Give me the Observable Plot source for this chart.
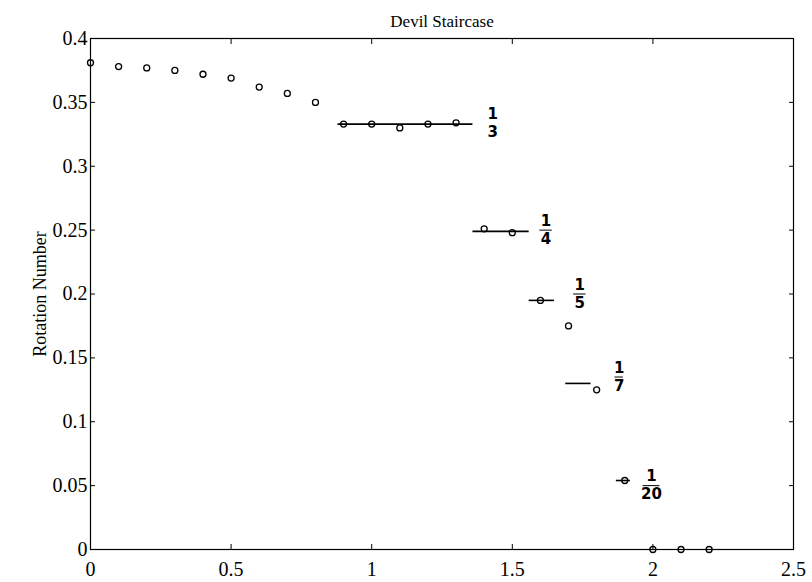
<!DOCTYPE html>
<html>
<head>
<meta charset="utf-8">
<script src="https://cdn.jsdelivr.net/npm/d3@7"></script>
<script src="https://cdn.jsdelivr.net/npm/@observablehq/plot@0.6"></script>
<style>
  html, body { margin: 0; padding: 0; background: white; }
</style>
</head>
<body>
<div id="chart"></div>
<script>
// Sampled parameter values and measured rotation numbers
const param = [0, 0.1, 0.2, 0.3, 0.4, 0.5, 0.6, 0.7, 0.8, 0.9, 1.0, 1.1, 1.2, 1.3, 1.4, 1.5, 1.6, 1.7, 1.8, 1.9, 2.0, 2.1, 2.2];
const rotation = [0.381, 0.378, 0.377, 0.375, 0.372, 0.369, 0.362, 0.357, 0.350, 0.333, 0.333, 0.330, 0.333, 0.334, 0.251, 0.248, 0.195, 0.175, 0.125, 0.054, 0, 0, 0];

// Hand-drawn plateaus (steps of the staircase)
const plateauStart = [0.88, 1.36, 1.56, 1.69, 1.87];
const plateauEnd = [1.36, 1.56, 1.65, 1.78, 1.92];
const plateauLevel = [0.333, 0.249, 0.195, 0.130, 0.054];

// Fraction annotations
const fracNum = ["1", "1", "1", "1", "1"];
const fracDen = ["3", "4", "5", "7", "20"];
const fracX = [1.43, 1.62, 1.74, 1.88, 1.995];
const fracY = [0.334, 0.250, 0.200, 0.135, 0.050];
const fracBarHalf = [0, 0.022, 0.022, 0.015, 0.03];

// Tick values
const xTicks = [0, 0.5, 1, 1.5, 2, 2.5];
const yTicks = [0, 0.05, 0.1, 0.15, 0.2, 0.25, 0.3, 0.35, 0.4];

const points = param.map((p, i) => ({p, r: rotation[i]}));
const plateaus = plateauLevel.map((v, i) => ({x1: plateauStart[i], x2: plateauEnd[i], y: v}));
const fracs = fracX.map((x, i) => ({x, y: fracY[i], num: fracNum[i], den: fracDen[i], h: fracBarHalf[i]}));

const fmt = d => String(d);
const serif = "Liberation Serif, Times New Roman, serif";
const hand = {fontFamily: "DejaVu Sans", fontWeight: "bold", fontSize: 15, fill: "black"};

const chart = Plot.plot({
  width: 812,
  height: 582,
  marginLeft: 90,
  marginRight: 19,
  marginTop: 38,
  marginBottom: 33,
  x: {domain: [0, 2.5]},
  y: {domain: [0, 0.4]},
  style: {fontFamily: serif, background: "white", color: "black", overflow: "visible"},
  marks: [
    Plot.axisX({ticks: xTicks, tickSize: -5, tickPadding: 17, tickFormat: fmt, fontSize: 20, fontFamily: serif, label: null}),
    Plot.axisX({anchor: "top", ticks: xTicks, tickSize: -5, tickFormat: () => "", label: null}),
    Plot.axisY({ticks: yTicks, tickSize: -5, tickPadding: 8, tickFormat: fmt, fontSize: 20, fontFamily: serif, label: null}),
    Plot.axisY({anchor: "right", ticks: yTicks, tickSize: -5, tickFormat: () => "", label: null}),
    Plot.frame({stroke: "black", strokeWidth: 1.2}),
    Plot.ruleY(plateaus, {y: "y", x1: "x1", x2: "x2", stroke: "black", strokeWidth: 1.6}),
    Plot.dot(points, {x: "p", y: "r", r: 3, stroke: "black", fill: "none", strokeWidth: 1.3}),
    Plot.text(fracs, {x: "x", y: "y", text: "num", dy: -9, ...hand}),
    Plot.ruleY(fracs.filter(d => d.h > 0), {y: "y", x1: d => d.x - d.h, x2: d => d.x + d.h, stroke: "black", strokeWidth: 1}),
    Plot.text(fracs, {x: "x", y: "y", text: "den", dy: 9, ...hand}),
    Plot.text(["Devil Staircase"], {frameAnchor: "top", dy: -24, fontSize: 17, fontFamily: serif, fill: "black"}),
    Plot.text(["Rotation Number"], {frameAnchor: "left", textAnchor: "middle", dx: -50, rotate: -90, fontSize: 18, fontFamily: serif, fill: "black"})
  ]
});

document.getElementById("chart").appendChild(chart);
</script>
</body>
</html>
